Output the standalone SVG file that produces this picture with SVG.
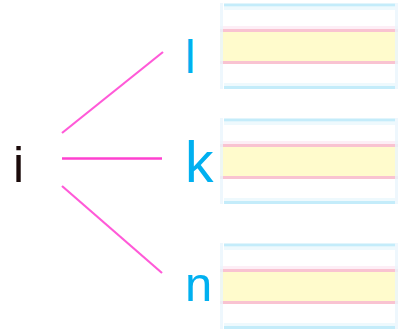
<svg xmlns="http://www.w3.org/2000/svg" width="409" height="331" viewBox="0 0 409 331">
<defs>
<style>
.lbl{font-family:"Liberation Sans",Arial,sans-serif;fill:#00b0f0}
.src{font-family:"Liberation Sans",Arial,sans-serif;fill:#1a0a0a}
.edge{stroke:#ff40d0;stroke-width:2.5;fill:none;stroke-linecap:butt}
.diag{stroke:#ff5ad8;stroke-width:2.2}
.side{stroke:#eaf6fd;stroke-width:3}
.rail{stroke:#c4ecfa;stroke-width:3}
.railf{stroke:#eef9fd;stroke-width:3}
.pink{stroke:#f9c3d1;stroke-width:3}
.pinkf{stroke:#fdeef6;stroke-width:3}
.yel{fill:#fffbcc}
</style>
<g id="box">
<rect class="yel" x="220" y="32" width="178" height="29"/>
<line class="pinkf" x1="220" y1="27.5" x2="398" y2="27.5"/>
<line class="pink" x1="220" y1="30.5" x2="398" y2="30.5"/>
<line class="pink" x1="220" y1="62.5" x2="398" y2="62.5"/>
<line class="railf" x1="224" y1="8.5" x2="395" y2="8.5"/>
<line class="rail" x1="224" y1="5" x2="395" y2="5"/>
<line class="railf" x1="224" y1="84.5" x2="395" y2="84.5"/>
<line class="rail" x1="224" y1="87.5" x2="395" y2="87.5"/>
<line class="side" x1="221.5" y1="3" x2="221.5" y2="89" opacity="0.8"/>
<line class="side" x1="396.5" y1="3" x2="396.5" y2="89" opacity="0.8"/>
</g>
</defs>
<g id="connectors">
<line class="edge diag" x1="62" y1="133" x2="163" y2="52"/>
<line class="edge" x1="62" y1="158.5" x2="162" y2="158.5"/>
<line class="edge diag" x1="62" y1="186" x2="162" y2="273"/>
</g>
<g id="node-i">
<text class="src" x="13" y="182" font-size="50">i</text>
</g>
<g id="node-l">
<use href="#box"/>
<text class="lbl" x="185" y="73" font-size="47">l</text>
</g>
<g id="node-k">
<use href="#box" y="115"/>
<text class="lbl" x="185" y="182" font-size="57">k</text>
</g>
<g id="node-n">
<use href="#box" y="240"/>
<text class="lbl" x="185" y="301" font-size="49">n</text>
</g>
</svg>
